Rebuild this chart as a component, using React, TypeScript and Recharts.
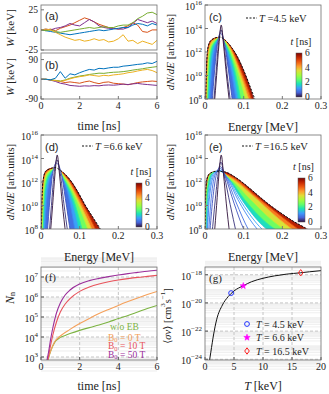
import React from 'react';
import { ComposedChart, LineChart, Line, Area, XAxis, YAxis, CartesianGrid, Scatter } from 'recharts';

const SERIF = '"Liberation Serif", "DejaVu Serif", serif';
const SANS = '"Liberation Sans", Arial, sans-serif';

// column layout of the plot boxes
const COL_L = 41;
const COL_R = 205;
const PW = 116;
const MT = 10; // room above each plot box for the top tick label
const MR = 10; // room right of each plot box for the last tick label

// ---- (a), (b): W(t) random walks
const timeNs = [0, 0.25, 0.5, 0.75, 1, 1.25, 1.5, 1.75, 2, 2.25, 2.5, 2.75, 3, 3.25, 3.5, 3.75, 4, 4.25, 4.5, 4.75, 5, 5.25, 5.5, 5.75, 6];
const aOrange = [0, 0, 1, -1, 2, 4, 6, 9, 12, 15, 13, 10, 7, 5, 3, 2, 1, 3, 5, 9, 6, -2, -3, 0, 0];
const aPurple = [0, 1, 0, 2, 3, 5, 8, 6, 5, 9, 13, 10, 5, 3, 2, 2, 1, 1, 3, 8, 13, 11, 9, 11, 8];
const aBlue = [0, -1, -2, -3, -4, -5, -6, -5, -4, -3, -2, -1, 0, -1, 0, 1, 2, 3, 3, 6, 8, 7, 5, 8, 6];
const aGreen = [0, -1, 0, -2, -3, -2, -1, 0, 1, 2, 3, 2, 3, 4, 3, 3, 5, 6, 6, 9, 14, 17, 21, 22, 19];
const aYellow = [0, 1, 0, -3, -6, -9, -11, -13, -12, -14, -13, -11, -13, -12, -15, -14, -11, -6, -14, -13, -17, -14, -16, -18, -13];

const bBlue = [0, 0, -2, 5, 35, 5, 25, 20, 30, 38, 45, 42, 50, 48, 52, 55, 55, 60, 62, 65, 68, 70, 75, 72, 82];
const bGreen = [0, 0, -3, -5, -8, -3, 5, 10, 15, 18, 22, 25, 28, 27, 30, 32, 33, 35, 38, 42, 45, 48, 52, 55, 58];
const bYellow = [0, 0, -2, -6, -10, -5, 2, 8, 12, 15, 20, 17, 14, 18, 16, 20, 22, 25, 30, 33, 38, 42, 45, 40, 30];
const bOrange = [0, 0, -3, -6, -10, -15, -12, -15, -18, -12, -8, -15, -20, -14, -12, -18, -20, -22, -25, -20, -15, -12, -10, -8, -10];
const bPurple = [0, 0, -4, -10, -18, -22, -28, -30, -32, -30, -31, -29, -30, -27, -26, -27, -25, -22, -24, -21, -19, -22, -24, -26, -28];

// ---- (c), (d), (e): spectra, [energy MeV, log10 dN/dE]
const specTimesCD = [0, 0.25, 0.5, 1, 1.5, 2, 3, 4, 5, 6];
const spike = [[0.024, 7.5], [0.03, 10], [0.036, 12.6], [0.042, 14.3], [0.048, 12.6], [0.055, 10.2], [0.064, 7.5]];

const specC = [
  spike,
  [[0.022, 7.5], [0.028, 10], [0.035, 12.8], [0.041, 13.9], [0.049, 12.7], [0.057, 10.2], [0.067, 7.5]],
  [[0.018, 7.5], [0.025, 10.5], [0.033, 12.9], [0.04, 13.6], [0.05, 12.8], [0.06, 10.6], [0.072, 7.5]],
  [[0.012, 7.5], [0.018, 10.5], [0.025, 12.2], [0.032, 12.9], [0.04, 13.3], [0.052, 12.5], [0.065, 10.8], [0.082, 7.5]],
  [[0.009, 7.5], [0.014, 10.6], [0.02, 12.1], [0.028, 12.75], [0.039, 13.15], [0.054, 12.45], [0.07, 10.8], [0.088, 7.5]],
  [[0.007, 7.5], [0.011, 10.6], [0.016, 12.1], [0.025, 12.8], [0.038, 13.15], [0.056, 12.5], [0.075, 10.7], [0.095, 7.5]],
  [[0.005, 7.5], [0.008, 10.6], [0.012, 12.1], [0.02, 12.75], [0.038, 13.2], [0.06, 12.45], [0.083, 10.5], [0.108, 7.5]],
  [[0.0035, 7.5], [0.006, 10.6], [0.01, 12.2], [0.015, 12.75], [0.025, 13.08], [0.038, 13.22], [0.063, 12.45], [0.09, 10.3], [0.118, 7.5]],
  [[0.0025, 7.5], [0.005, 10.6], [0.008, 12.2], [0.015, 12.88], [0.025, 13.15], [0.038, 13.24], [0.066, 12.45], [0.096, 10.2], [0.125, 7.5]],
  [[0.002, 7.5], [0.004, 10.6], [0.008, 12.4], [0.015, 12.95], [0.025, 13.18], [0.038, 13.25], [0.055, 12.9], [0.068, 12.4], [0.085, 11.5], [0.1, 10.4], [0.115, 9.1], [0.13, 7.5]],
];
const maxwellC = [[0.0015, 7.5], [0.004, 10.6], [0.008, 12.42], [0.015, 12.98], [0.038, 13.27], [0.055, 12.92], [0.068, 12.42], [0.085, 11.52], [0.1, 10.45], [0.115, 9.2], [0.13, 7.9], [0.136, 7.4]];

const specD = [
  spike,
  [[0.021, 7.5], [0.027, 10], [0.034, 12.8], [0.041, 13.9], [0.05, 12.7], [0.059, 10.2], [0.07, 7.5]],
  [[0.016, 7.5], [0.023, 10.5], [0.031, 12.9], [0.04, 13.6], [0.052, 12.8], [0.063, 10.6], [0.077, 7.5]],
  [[0.009, 7.5], [0.015, 10.5], [0.022, 12.1], [0.03, 12.8], [0.039, 13.25], [0.055, 12.4], [0.07, 10.9], [0.09, 7.5]],
  [[0.0065, 7.5], [0.011, 10.6], [0.017, 12.0], [0.026, 12.7], [0.037, 13.1], [0.058, 12.15], [0.077, 10.7], [0.101, 7.5]],
  [[0.005, 7.5], [0.009, 10.6], [0.014, 12.0], [0.022, 12.7], [0.037, 13.1], [0.06, 12.2], [0.083, 10.6], [0.11, 7.5]],
  [[0.003, 7.5], [0.006, 10.5], [0.01, 12.0], [0.018, 12.75], [0.036, 13.12], [0.064, 12.2], [0.092, 10.4], [0.126, 7.5]],
  [[0.002, 7.5], [0.004, 10.4], [0.008, 12.1], [0.015, 12.8], [0.036, 13.15], [0.067, 12.25], [0.099, 10.3], [0.138, 7.5]],
  [[0.0015, 7.5], [0.003, 10.1], [0.006, 12.0], [0.012, 12.8], [0.022, 13.08], [0.036, 13.18], [0.07, 12.25], [0.105, 10.3], [0.148, 7.5]],
  [[0.001, 7.5], [0.002, 9.5], [0.005, 12.0], [0.012, 12.9], [0.022, 13.12], [0.036, 13.2], [0.055, 12.85], [0.079, 12.0], [0.095, 11.15], [0.114, 10.0], [0.135, 8.9], [0.155, 7.8], [0.16, 7.5]],
];
const maxwellD = [[0.0008, 7.5], [0.002, 9.6], [0.005, 12.02], [0.012, 12.92], [0.036, 13.22], [0.055, 12.87], [0.079, 12.02], [0.095, 11.18], [0.114, 10.05], [0.135, 8.95], [0.155, 7.9], [0.163, 7.4]];

const specTimesE = [0, 0.25, 0.5, 0.75, 1, 1.25, 1.5, 2, 3, 4, 5, 6];
const specE = [
  spike,
  [[0.018, 7.5], [0.026, 10.3], [0.034, 12.7], [0.041, 13.7], [0.05, 12.5], [0.065, 10.1], [0.082, 7.5]],
  [[0.012, 7.5], [0.02, 10.5], [0.03, 12.7], [0.04, 13.3], [0.052, 12.5], [0.075, 10.2], [0.1, 8.0], [0.108, 7.5]],
  [[0.009, 7.5], [0.016, 10.6], [0.027, 12.7], [0.039, 13.15], [0.054, 12.45], [0.08, 10.3], [0.113, 7.9], [0.12, 7.5]],
  [[0.006, 7.5], [0.012, 10.8], [0.025, 12.7], [0.038, 13.0], [0.056, 12.4], [0.085, 10.5], [0.125, 8.4], [0.148, 7.5]],
  [[0.005, 7.5], [0.01, 10.9], [0.022, 12.7], [0.037, 12.98], [0.058, 12.35], [0.09, 10.5], [0.133, 8.5], [0.163, 7.5]],
  [[0.004, 7.5], [0.008, 11], [0.02, 12.7], [0.036, 12.95], [0.06, 12.3], [0.095, 10.5], [0.14, 8.6], [0.178, 7.5]],
  [[0.003, 7.5], [0.006, 11.2], [0.017, 12.7], [0.035, 12.9], [0.064, 12.2], [0.105, 10.4], [0.16, 8.5], [0.205, 7.5]],
  [[0.002, 7.5], [0.004, 11.3], [0.014, 12.7], [0.033, 12.9], [0.068, 12.2], [0.115, 10.6], [0.175, 8.7], [0.225, 7.5]],
  [[0.0015, 7.5], [0.003, 10.4], [0.012, 12.5], [0.031, 12.88], [0.072, 12.25], [0.125, 10.8], [0.19, 8.9], [0.245, 7.5]],
  [[0.001, 7.5], [0.002, 10.3], [0.01, 12.5], [0.03, 12.88], [0.078, 12.3], [0.13, 10.85], [0.2, 9.0], [0.262, 7.5]],
  [[0.0005, 7.5], [0.0015, 10.5], [0.004, 12.1], [0.012, 12.7], [0.03, 12.9], [0.05, 12.85], [0.08, 12.35], [0.11, 11.6], [0.14, 10.75], [0.17, 9.95], [0.2, 9.25], [0.23, 8.6], [0.26, 8.05], [0.28, 7.6], [0.29, 7.3]],
];
const maxwellE = [[0.0005, 7.5], [0.0015, 10.6], [0.004, 12.12], [0.012, 12.72], [0.03, 12.92], [0.05, 12.87], [0.08, 12.37], [0.11, 11.62], [0.14, 10.78], [0.17, 9.98], [0.2, 9.28], [0.23, 8.63], [0.26, 8.08], [0.29, 7.4]];

// ---- (f): neutron yield, [time ns, log10 Nn]
const nNoField = [[0.32, 2.7], [0.5, 3.3], [0.7, 3.72], [1, 3.98], [1.25, 4.08], [1.5, 4.17], [2, 4.33], [2.5, 4.47], [3, 4.6], [3.5, 4.75], [4, 4.92], [4.5, 5.08], [5, 5.25], [5.5, 5.42], [6, 5.58]];
const nB0 = [[0.3, 2.7], [0.5, 3.3], [0.7, 3.75], [1, 4.05], [1.5, 4.38], [2, 4.67], [2.5, 4.93], [3, 5.17], [3.5, 5.38], [4, 5.58], [4.5, 5.77], [5, 5.95], [5.5, 6.12], [6, 6.28]];
const nB10 = [[0.33, 2.7], [0.4, 3.1], [0.5, 3.6], [0.6, 4.05], [0.8, 4.75], [1, 5.25], [1.25, 5.65], [1.5, 5.92], [2, 6.28], [2.5, 6.5], [3, 6.65], [3.5, 6.76], [4, 6.85], [4.5, 6.92], [5, 6.98], [5.5, 7.03], [6, 7.08]];
const nB50 = [[0.28, 2.7], [0.4, 3.3], [0.5, 3.9], [0.6, 4.4], [0.8, 5.2], [1, 5.7], [1.25, 6.1], [1.5, 6.35], [2, 6.65], [2.5, 6.82], [3, 6.93], [3.5, 7.02], [4, 7.1], [4.5, 7.17], [5, 7.23], [5.5, 7.29], [6, 7.34]];

// ---- (g): reactivity, [T keV, log10 <sigma v>]
const reactivity = [[0.7, -24.3], [1, -23.5], [1.5, -22.2], [2, -21.2], [3, -20.15], [4, -19.55], [5, -19.15], [6.6, -18.78], [8, -18.5], [10, -18.25], [12, -18.08], [14, -17.96], [16.5, -17.86], [18, -17.79], [20, -17.71]];
const markT45 = [[4.5, -19.3]];
const markT66 = [[6.6, -18.79]];
const markT165 = [[16.5, -17.86]];

// ---- colours
const TURBO = ['#30123b', '#4662d8', '#3e9bfe', '#1ae4b6', '#64fd6a', '#a4fc3c', '#e1dd37', '#fe9b2d', '#ef5a11', '#c42702', '#7a0403'];

function hexToRgb(h: string) {
  const n = parseInt(h.slice(1), 16);
  return [n >> 16, (n >> 8) & 255, n & 255];
}

function turbo(f: number) {
  const v = Math.max(0, Math.min(1, f)) * (TURBO.length - 1);
  const i = Math.min(Math.floor(v), TURBO.length - 2);
  const k = v - i;
  const a = hexToRgb(TURBO[i]);
  const b = hexToRgb(TURBO[i + 1]);
  const c = a.map((x, j) => Math.round(x + (b[j] - x) * k));
  return `rgb(${c[0]},${c[1]},${c[2]})`;
}

const toXY = (pts: number[][]) => pts.map(([x, y]) => ({ x, y }));

const tickStyle = { fontSize: 10, fill: '#222', fontFamily: SERIF };
const smallTick = { fontSize: 9.5, fill: '#222', fontFamily: SERIF };

const PowTick = (props: any) => {
  const { x, y, payload } = props;
  const n = Math.round(payload.value);
  const exp = n < 0 ? '\u2212' + Math.abs(n) : String(n);
  return (
    <text x={x} y={y + 1.5} textAnchor="end" dominantBaseline="central" fontFamily={SERIF} fontSize={10} fill="#222">
      10<tspan dy={-3.5} fontSize={7}>{exp}</tspan>
    </text>
  );
};

const W_SERIES_A = [
  { key: 'orange', vals: aOrange, color: '#D95319' },
  { key: 'purple', vals: aPurple, color: '#7E2F8E' },
  { key: 'blue', vals: aBlue, color: '#0072BD' },
  { key: 'green', vals: aGreen, color: '#77AC30' },
  { key: 'yellow', vals: aYellow, color: '#EDB120' },
];
const W_SERIES_B = [
  { key: 'orange', vals: bOrange, color: '#D95319' },
  { key: 'purple', vals: bPurple, color: '#7E2F8E' },
  { key: 'green', vals: bGreen, color: '#77AC30' },
  { key: 'yellow', vals: bYellow, color: '#EDB120' },
  { key: 'blue', vals: bBlue, color: '#0072BD' },
];

function WPanel({ top, h, series, domain, ticks, showX }: any) {
  const rows = timeNs.map((t, i) => {
    const r: any = { t };
    series.forEach((s: any) => (r[s.key] = s.vals[i]));
    return r;
  });
  const xh = showX ? 22 : 8;
  return (
    <div style={{ position: 'absolute', left: COL_L - 40, top: top - MT }}>
      <LineChart width={PW + 40 + MR} height={h + MT + xh} data={rows} margin={{ top: MT, right: MR, bottom: 0, left: 0 }}>
        <XAxis type="number" dataKey="t" domain={[0, 6]} ticks={[0, 2, 4, 6]} interval={0} height={xh}
          axisLine={false} tickSize={-3} tickMargin={6} tick={showX ? tickStyle : false} stroke="#777" allowDataOverflow />
        <YAxis type="number" domain={domain} ticks={ticks} interval={0} width={40}
          axisLine={false} tickSize={-3} tickMargin={6} tick={smallTick} stroke="#777" allowDataOverflow />
        {series.map((s: any) => (
          <Line key={s.key} dataKey={s.key} type="linear" stroke={s.color} strokeWidth={1}
            dot={false} activeDot={false} isAnimationActive={false} />
        ))}
      </LineChart>
    </div>
  );
}

function SpecPanel({ left, top, times, curves, maxwell, fillFrom }: any) {
  const order = times.map((_: number, i: number) => i).reverse();
  return (
    <div style={{ position: 'absolute', left: left - 40, top: top - MT }}>
      <ComposedChart width={PW + 40 + MR} height={94 + MT + 22} margin={{ top: MT, right: MR, bottom: 0, left: 0 }}>
        <XAxis type="number" dataKey="x" domain={[0, 0.3]} ticks={[0, 0.1, 0.2, 0.3]} interval={0} height={22}
          axisLine={false} tickSize={-3} tickMargin={6} tick={tickStyle} stroke="#777" allowDataOverflow />
        <YAxis type="number" domain={[8, 16]} ticks={[8, 10, 12, 14, 16]} interval={0} width={40}
          axisLine={false} tickSize={-3} tickMargin={6} tick={<PowTick />} stroke="#777" allowDataOverflow />
        {order.map((i: number) => {
          const fill = i > fillFrom ? turbo((times[i] + times[i - 1]) / 12) : i === fillFrom ? '#ffffff' : 'none';
          return (
            <Area key={i} data={toXY(curves[i])} dataKey="y" type="monotone" stroke={turbo(times[i] / 6)}
              strokeWidth={0.9} fill={fill} fillOpacity={1} baseValue={8}
              dot={false} activeDot={false} isAnimationActive={false} />
          );
        })}
        <Line data={toXY(maxwell)} dataKey="y" type="monotone" stroke="#111" strokeWidth={1} strokeDasharray="2 1.5"
          dot={false} activeDot={false} isAnimationActive={false} />
      </ComposedChart>
    </div>
  );
}

const minorLog = (lo: number, hi: number) => {
  const out: number[] = [];
  for (let d = lo; d <= hi; d++) for (let k = 2; k <= 9; k++) out.push(d + Math.log10(k));
  return out;
};

const F_SERIES = [
  { key: 'g', pts: nNoField, color: '#7cb342' },
  { key: 'o', pts: nB0, color: '#f5a05a' },
  { key: 'r', pts: nB10, color: '#e8535b' },
  { key: 'p', pts: nB50, color: '#9b2f9b' },
];

function FPanel() {
  return (
    <div style={{ position: 'absolute', left: COL_L - 40, top: 267 - MT }}>
      <ComposedChart width={PW + 40 + MR} height={93 + MT + 22} margin={{ top: MT, right: MR, bottom: 0, left: 0 }}>
        <CartesianGrid vertical={false} horizontalValues={minorLog(2, 7)} stroke="#ececec" />
        <CartesianGrid horizontalValues={[3, 4, 5, 6, 7]} verticalValues={[2, 4]} stroke="#c4c4c4" strokeDasharray="3 2" />
        <XAxis type="number" dataKey="x" domain={[0, 6]} ticks={[0, 2, 4, 6]} interval={0} height={22}
          axisLine={false} tickSize={-3} tickMargin={6} tick={tickStyle} stroke="#555" allowDataOverflow />
        <YAxis type="number" domain={[2.85, 7.5]} ticks={[3, 4, 5, 6, 7]} interval={0} width={40}
          axisLine={false} tickSize={-3} tickMargin={6} tick={<PowTick />} stroke="#555" allowDataOverflow />
        {F_SERIES.map((s) => (
          <Line key={s.key} data={toXY(s.pts)} dataKey="y" type="monotone" stroke={s.color} strokeWidth={1.1}
            dot={false} activeDot={false} isAnimationActive={false} />
        ))}
      </ComposedChart>
    </div>
  );
}

const starPath = (cx: number, cy: number, R: number, r: number) => {
  let d = '';
  for (let i = 0; i < 10; i++) {
    const a = -Math.PI / 2 + (i * Math.PI) / 5;
    const rad = i % 2 === 0 ? R : r;
    d += (i === 0 ? 'M' : 'L') + (cx + rad * Math.cos(a)).toFixed(2) + ',' + (cy + rad * Math.sin(a)).toFixed(2);
  }
  return d + 'Z';
};

const CircleMark = (p: any) => <circle cx={p.cx} cy={p.cy} r={2.4} fill="none" stroke="#2233ff" strokeWidth={1} />;
const StarMark = (p: any) => <path d={starPath(p.cx, p.cy, 3.4, 1.4)} fill="#ff00ff" stroke="#ff00ff" strokeWidth={0.5} />;
const DiamondMark = (p: any) => (
  <path d={`M${p.cx},${p.cy - 3.2}L${p.cx + 2.3},${p.cy}L${p.cx},${p.cy + 3.2}L${p.cx - 2.3},${p.cy}Z`} fill="none" stroke="#ff2020" strokeWidth={1} />
);

function GPanel() {
  return (
    <div style={{ position: 'absolute', left: COL_R - 40, top: 267 - MT }}>
      <ComposedChart width={PW + 40 + MR} height={93 + MT + 22} margin={{ top: MT, right: MR, bottom: 0, left: 0 }}>
        <CartesianGrid vertical={false} horizontalValues={minorLog(-25, -18)} stroke="#efefef" />
        <CartesianGrid horizontalValues={[-24, -22, -20, -18]} verticalValues={[5, 10, 15]} stroke="#c4c4c4" strokeDasharray="3 2" />
        <XAxis type="number" dataKey="x" domain={[0, 20]} ticks={[0, 5, 10, 15, 20]} interval={0} height={22}
          axisLine={false} tickSize={-3} tickMargin={6} tick={tickStyle} stroke="#555" allowDataOverflow />
        <YAxis type="number" dataKey="y" domain={[-24.05, -17.45]} ticks={[-24, -22, -20, -18]} interval={0} width={40}
          axisLine={false} tickSize={-3} tickMargin={6} tick={<PowTick />} stroke="#555" allowDataOverflow />
        <Line data={toXY(reactivity)} dataKey="y" type="monotone" stroke="#111" strokeWidth={1}
          dot={false} activeDot={false} isAnimationActive={false} />
        <Scatter data={toXY(markT45)} dataKey="y" shape={CircleMark} isAnimationActive={false} />
        <Scatter data={toXY(markT66)} dataKey="y" shape={StarMark} isAnimationActive={false} />
        <Scatter data={toXY(markT165)} dataKey="y" shape={DiamondMark} isAnimationActive={false} />
      </ComposedChart>
    </div>
  );
}

const Frame = ({ x, y, h }: any) => <rect x={x} y={y} width={PW} height={h} fill="none" stroke="#6f6f6f" strokeWidth={0.8} />;

const ColorBar = ({ x, y, w, h, id }: any) => (
  <g>
    <defs>
      <linearGradient id={id} x1="0" y1="1" x2="0" y2="0">
        {TURBO.map((c, i) => <stop key={i} offset={i / (TURBO.length - 1)} stopColor={c} />)}
      </linearGradient>
    </defs>
    <rect x={x} y={y} width={w} height={h} fill={`url(#${id})`} stroke="#555" strokeWidth={0.5} />
    {[6, 4, 2, 0].map((v, i) => (
      <text key={v} x={x + w + 3} y={y + (i * h) / 3} dominantBaseline="central" fontSize={9.5} fontFamily={SERIF} fill="#222">{v}</text>
    ))}
    <text x={x + w / 2 + 2} y={y - 8} textAnchor="middle" fontSize={10} fontFamily={SERIF} fill="#222">
      <tspan fontStyle="italic">t</tspan> [ns]
    </text>
  </g>
);

const SpecLegend = ({ x, y, label }: any) => (
  <g>
    <line x1={x} x2={x + 11} y1={y} y2={y} stroke="#111" strokeWidth={1} strokeDasharray="2 1.5" />
    <text x={x + 13} y={y + 3.5} fontSize={10.5} fontFamily={SERIF} fill="#222">
      <tspan fontStyle="italic">T</tspan> ={label} keV
    </text>
  </g>
);

const DnDe = ({ x, y }: any) => (
  <text transform={`translate(${x},${y}) rotate(-90)`} textAnchor="middle" dominantBaseline="central" fontSize={11} fontFamily={SERIF} fill="#222">
    <tspan fontStyle="italic">dN</tspan>/<tspan fontStyle="italic">dE</tspan> [arb.units]
  </text>
);

function Overlay() {
  const t = { fontFamily: SERIF, fill: '#222' };
  return (
    <svg width={329} height={394} style={{ position: 'absolute', left: 0, top: 0, pointerEvents: 'none' }}>
      <Frame x={COL_L} y={5} h={45} />
      <Frame x={COL_L} y={53} h={46} />
      <Frame x={COL_R} y={5} h={94} />
      <Frame x={COL_L} y={135} h={94} />
      <Frame x={COL_R} y={135} h={94} />
      <Frame x={COL_L} y={267} h={93} />
      <Frame x={COL_R} y={267} h={93} />

      {/* (a), (b) */}
      <text x={45} y={20} fontSize={11} fontFamily={SANS} fill="#222">(a)</text>
      <text x={45} y={69} fontSize={11} fontFamily={SANS} fill="#222">(b)</text>
      <text transform="translate(10,28) rotate(-90)" textAnchor="middle" dominantBaseline="central" fontSize={11} {...t}>
        <tspan fontStyle="italic">W</tspan> [keV]
      </text>
      <text transform="translate(10,77) rotate(-90)" textAnchor="middle" dominantBaseline="central" fontSize={11} {...t}>
        <tspan fontStyle="italic">W</tspan> [keV]
      </text>
      <text x={COL_L + PW / 2} y={130} textAnchor="middle" fontSize={12} {...t}>time [ns]</text>

      {/* (c) */}
      <text x={209} y={21} fontSize={11} fontFamily={SANS} fill="#222">(c)</text>
      <SpecLegend x={246} y={18} label="4.5" />
      <ColorBar x={296} y={53} w={6} h={44} id="cbc" />
      <DnDe x={170} y={52} />
      <text x={COL_R + PW / 2} y={131} textAnchor="middle" fontSize={12} {...t}>Energy [MeV]</text>

      {/* (d) */}
      <text x={45} y={151} fontSize={11} fontFamily={SANS} fill="#222">(d)</text>
      <SpecLegend x={82} y={146} label="6.6" />
      <ColorBar x={136} y={183} w={6} h={44} id="cbd" />
      <DnDe x={10} y={182} />
      <text x={COL_L + PW / 2} y={261} textAnchor="middle" fontSize={12} {...t}>Energy [MeV]</text>

      {/* (e) */}
      <text x={209} y={151} fontSize={11} fontFamily={SANS} fill="#222">(e)</text>
      <SpecLegend x={242} y={146} label="16.5" />
      <ColorBar x={298} y={178} w={7} h={44} id="cbe" />
      <DnDe x={170} y={182} />
      <text x={COL_R + PW / 2} y={261} textAnchor="middle" fontSize={12} {...t}>Energy [MeV]</text>

      {/* (f) */}
      <text x={45} y={281} fontSize={11} {...t}>(f)</text>
      <text transform="translate(10,298) rotate(-90)" textAnchor="middle" dominantBaseline="central" fontSize={12} {...t}>
        <tspan fontStyle="italic">N</tspan><tspan fontSize={8} dy={2}>n</tspan>
      </text>
      <text x={COL_L + PW / 2} y={390} textAnchor="middle" fontSize={12} {...t}>time [ns]</text>
      <text x={110} y={330} fontSize={9.5} fontFamily={SERIF} fill="#7cb342">w/o EB</text>
      <text x={108} y={340.5} fontSize={9.5} fontFamily={SERIF} fill="#f5a05a">B<tspan fontSize={6.5} dy={1.5}>0</tspan><tspan dy={-1.5}> = 0 T</tspan></text>
      <text x={108} y={349} fontSize={9.5} fontFamily={SERIF} fill="#e8535b">B<tspan fontSize={6.5} dy={1.5}>0</tspan><tspan dy={-1.5}> = 10 T</tspan></text>
      <text x={108} y={357.5} fontSize={9.5} fontFamily={SERIF} fill="#9b2f9b">B<tspan fontSize={6.5} dy={1.5}>0</tspan><tspan dy={-1.5}> = 50 T</tspan></text>

      {/* (g) */}
      <text x={209} y={282} fontSize={11} {...t}>(g)</text>
      <text transform="translate(167,316) rotate(-90)" textAnchor="middle" dominantBaseline="central" fontSize={10.5} {...t}>
        {'\u27e8'}<tspan fontStyle="italic">σv</tspan>{'\u27e9'} [cm<tspan fontSize={7} dy={-4}>3</tspan><tspan dy={4}>s</tspan><tspan fontSize={7} dy={-4}>{'\u22121'}</tspan><tspan dy={4}>]</tspan>
      </text>
      <text x={COL_R + PW / 2} y={390} textAnchor="middle" fontSize={12} {...t}>
        <tspan fontStyle="italic">T</tspan> [keV]
      </text>
      <CircleMark cx={247} cy={324} />
      <StarMark cx={247} cy={337.5} />
      <DiamondMark cx={247} cy={351} />
      <text x={256} y={327.5} fontSize={10} {...t}><tspan fontStyle="italic">T</tspan> = 4.5 keV</text>
      <text x={256} y={341} fontSize={10} {...t}><tspan fontStyle="italic">T</tspan> = 6.6 keV</text>
      <text x={256} y={354.5} fontSize={10} {...t}><tspan fontStyle="italic">T</tspan> = 16.5 keV</text>
    </svg>
  );
}

export default function App() {
  return (
    <div style={{ position: 'absolute', left: 0, top: 0, width: 329, height: 394, background: '#fff', overflow: 'hidden' }}>
      <WPanel top={5} h={45} series={W_SERIES_A} domain={[-25, 31]} ticks={[-25, 0, 25]} showX={false} />
      <WPanel top={53} h={46} series={W_SERIES_B} domain={[-90, 120]} ticks={[-90, 0, 90]} showX />
      <SpecPanel left={COL_R} top={5} times={specTimesCD} curves={specC} maxwell={maxwellC} fillFrom={2} />
      <SpecPanel left={COL_L} top={135} times={specTimesCD} curves={specD} maxwell={maxwellD} fillFrom={2} />
      <SpecPanel left={COL_R} top={135} times={specTimesE} curves={specE} maxwell={maxwellE} fillFrom={6} />
      <FPanel />
      <GPanel />
      <Overlay />
    </div>
  );
}
